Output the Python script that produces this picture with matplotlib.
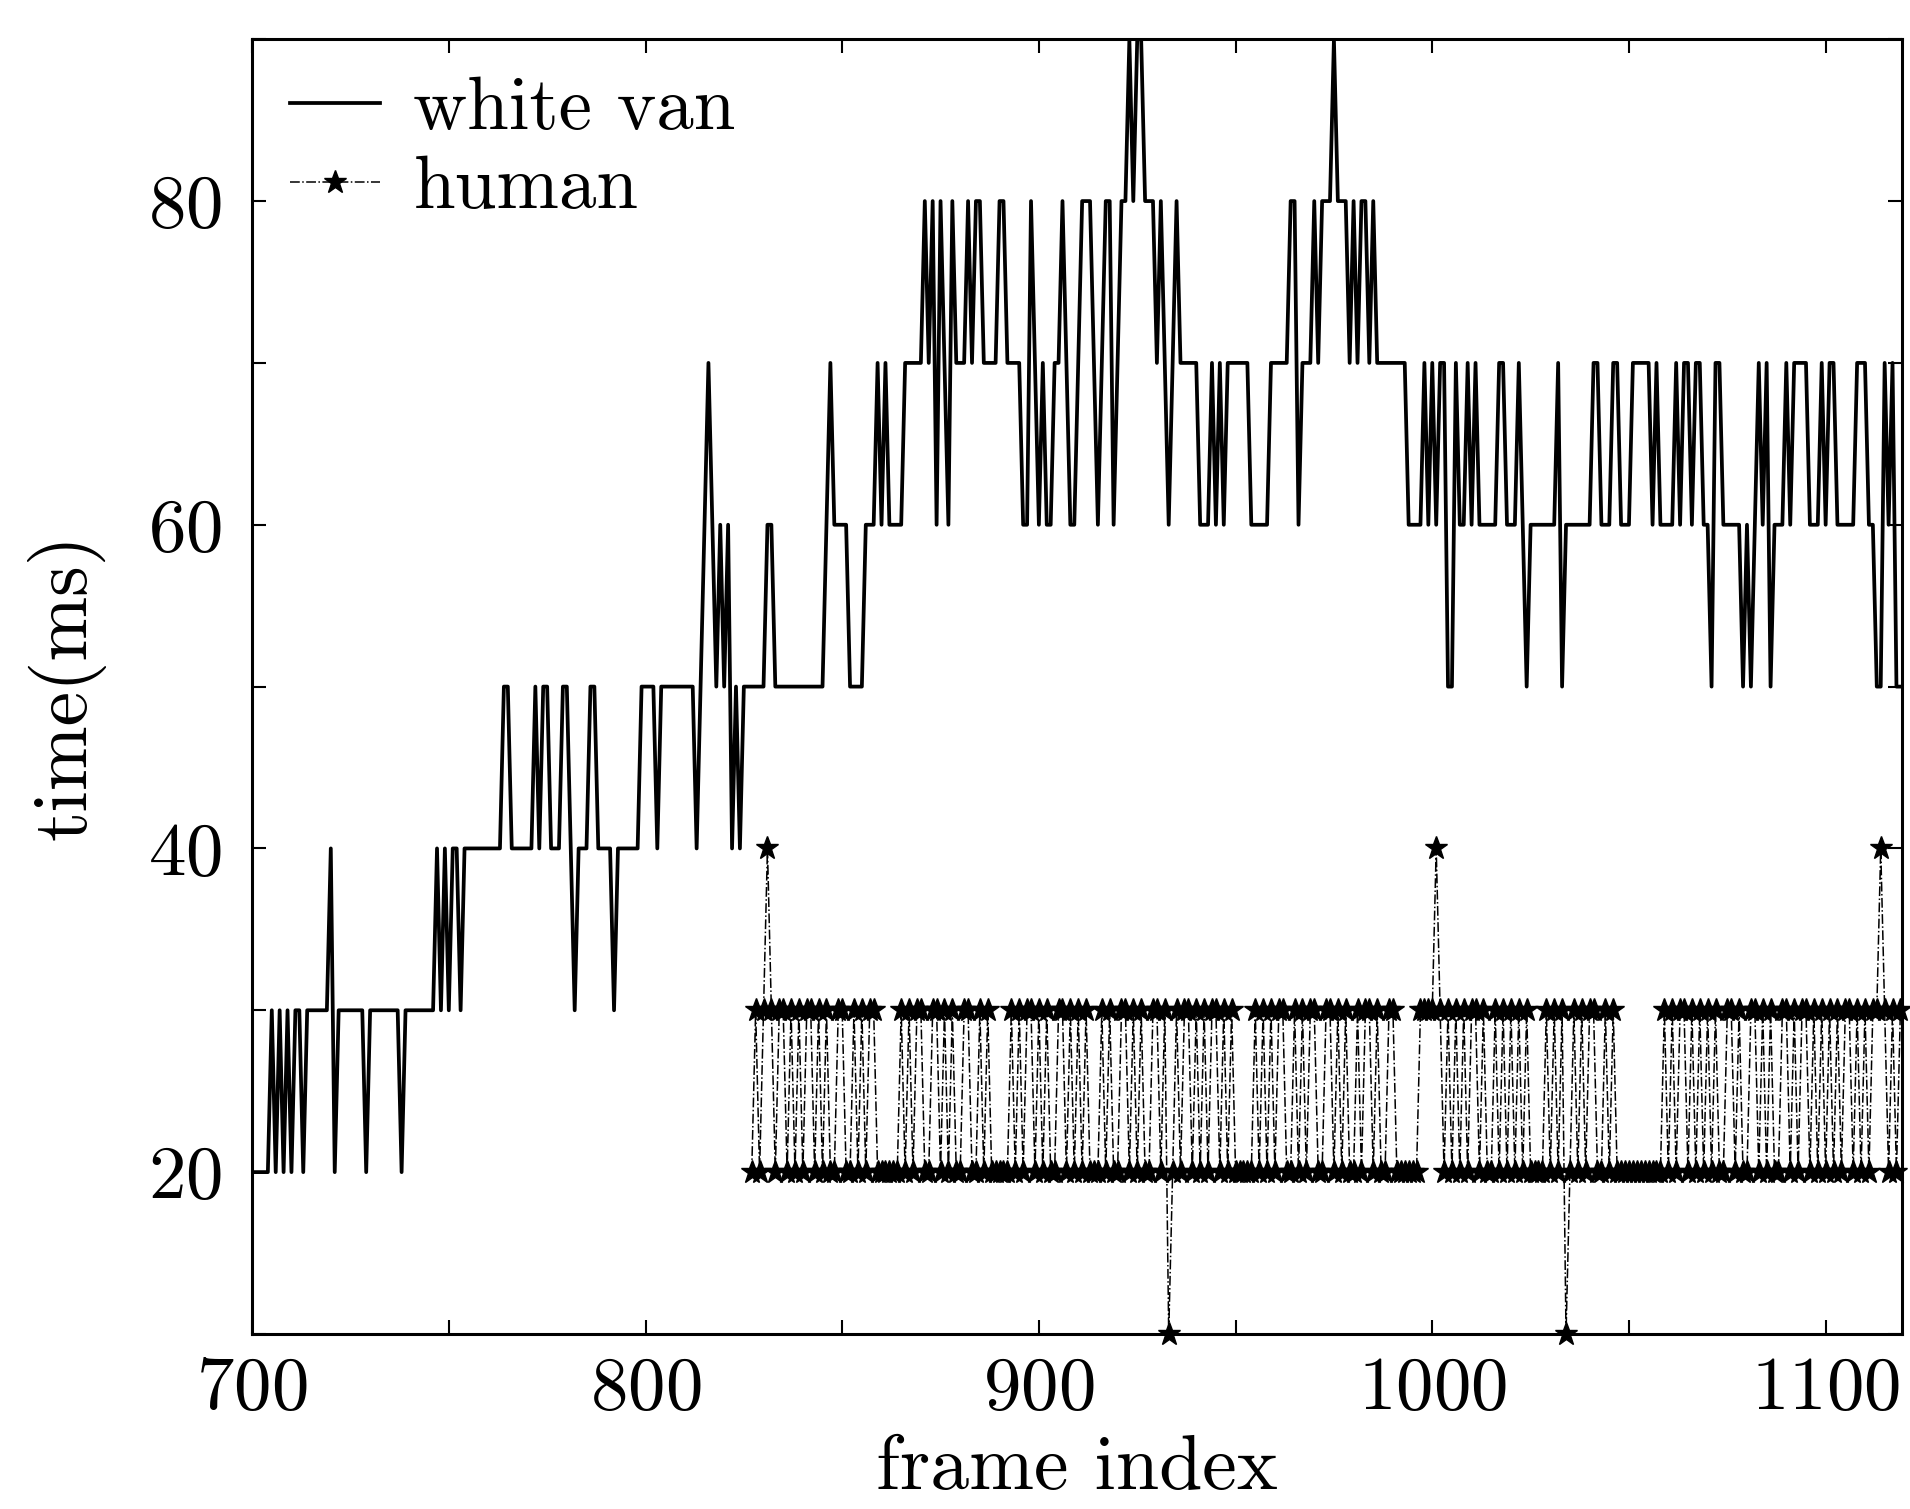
import matplotlib
matplotlib.use("Agg")
import matplotlib.pyplot as plt
import numpy as np
from matplotlib.ticker import MultipleLocator

# values in units of 10 ms, one digit per frame, 10 frames per string
van_start = 700
van_tens = [
    "2222232323", "2332333333", "4233333332", "3333333323", "3333333434",  # 700-749
    "3443444444", "4444554444", "4454554445", "5434445544", "4434444445",  # 750-799
    "5554555555", "5554567656", "5645455555", "5665555555", "5555556766",  # 800-849
    "6655556667", "6766667777", "7878687687", "7787887777", "8877776687",  # 850-899
    "6766778766", "7888767886", "7889899888", "7876787777", "7666767677",  # 900-949
    "7777666667", "7777886777", "8788898887", "8788787777", "7777666676",  # 950-999
    "7677557667", "6766666776", "6676566666", "6675666666", "6776667766",  # 1000-1049
    "6777776766", "6676776776", "6577666665", "6567675666", "7677776667",  # 1050-1099
    "6776666677", "7665576755",                                            # 1100-1119
]

human_start = 827
human_tens = [
    "232",                                                                 # 827-829
    "3432332323", "2332323223", "3223232332", "2222232323", "3223323232",  # 830-879
    "2332232322", "2223232332", "3232233232", "3232223232", "2332323223",  # 880-929
    "3231232332", "3232332323", "2222232323", "2332232323", "3223323232",  # 930-979
    "2323323223", "3222222333", "3432323232", "3323223232", "3232322223",  # 980-1029
    "2323123232", "3322323222", "2222222223", "2323323232", "3232233232",  # 1030-1079
    "2332323223", "3232332323", "2323233232", "3233432323",                # 1080-1119
]

van = np.array([int(c) * 10 for c in "".join(van_tens)])
human = np.array([int(c) * 10 for c in "".join(human_tens)])
van_x = np.arange(van_start, van_start + len(van))
human_x = np.arange(human_start, human_start + len(human))

plt.rcParams['font.family'] = ['cmr10', 'DejaVu Serif']
plt.rcParams['axes.formatter.use_mathtext'] = True
plt.rcParams['mathtext.fontset'] = 'cm'

fig = plt.figure(figsize=(19.1, 15.09), dpi=100)
ax = fig.add_axes([0.132, 0.116, 0.864, 0.858])

ax.plot(van_x, van, color='black', lw=2.7, label='white van')
ax.plot(human_x, human, color='black', lw=1.1, linestyle='-.',
        marker='*', markersize=17, clip_on=False, label='human')

ax.set_xlim(700, 1119.5)
ax.set_ylim(10, 90)
ax.xaxis.set_major_locator(MultipleLocator(100))
ax.xaxis.set_minor_locator(MultipleLocator(50))
ax.yaxis.set_major_locator(MultipleLocator(20))
ax.yaxis.set_minor_locator(MultipleLocator(10))
ax.tick_params(which='both', direction='in', top=True, right=True,
               length=10, width=1.5)
ax.tick_params(axis='x', which='major', labelsize=54, pad=16)
ax.tick_params(axis='y', which='major', labelsize=54, pad=22)
for s in ax.spines.values():
    s.set_linewidth(2.2)

ax.set_xlabel('frame index', fontsize=56, labelpad=8)
ax.set_ylabel('time(ms)', fontsize=56, labelpad=30)

ax.legend(loc='upper left', fontsize=54, frameon=False, handlelength=1.2,
          handletextpad=0.45, labelspacing=0.15, borderaxespad=0.2,
          borderpad=0.3)

fig.savefig('out.png', dpi=100)
